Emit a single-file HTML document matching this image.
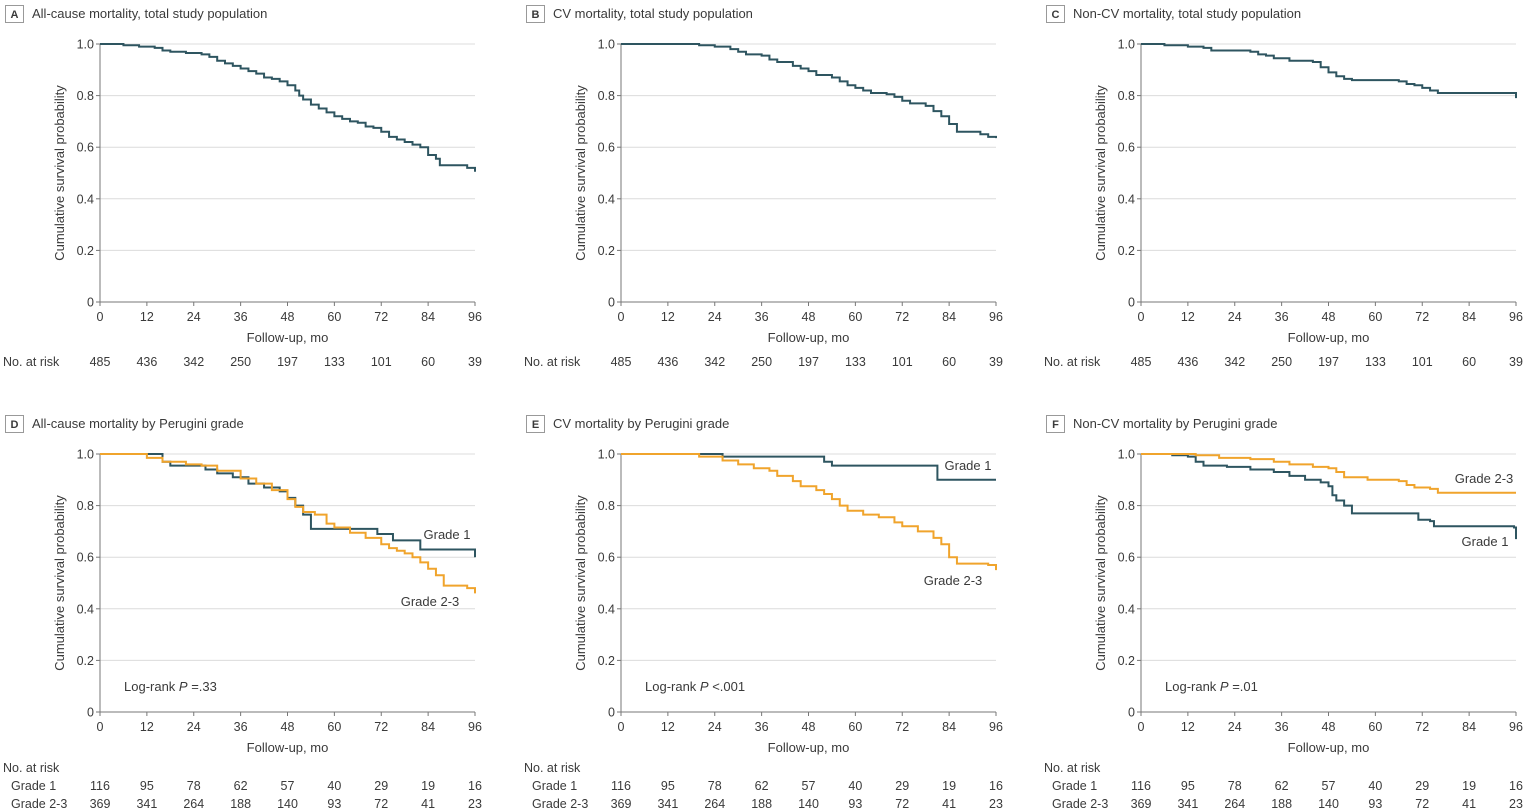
<!DOCTYPE html>
<html><head><meta charset="utf-8"><style>
body{margin:0;background:#fff;width:1527px;height:812px;overflow:hidden}
svg{display:block}
text{font-family:"Liberation Sans",sans-serif;fill:#3a3a3a}
</style></head><body>
<svg id="s" width="1527" height="812" xmlns="http://www.w3.org/2000/svg"></svg>
<script>
const T="#2e5560",O="#f0a42c";
const P=[
{ox:0,oy:0,L:"A",t:"All-cause mortality, total study population",c:[[T,[[0,1],[6,.995],[10,.99],[14,.985],[16,.975],[18,.97],[22,.965],[26,.96],[28,.95],[30,.935],[32,.925],[34,.915],[36,.905],[38,.895],[40,.885],[42,.87],[44,.865],[46,.855],[48,.84],[50,.82],[51,.8],[52,.785],[54,.765],[56,.75],[58,.735],[60,.72],[62,.71],[64,.7],[66,.695],[68,.68],[70,.675],[72,.66],[74,.64],[76,.63],[78,.62],[80,.61],[82,.6],[84,.57],[86,.555],[87,.53],[94,.52],[96,.505]]]]},
{ox:521,oy:0,L:"B",t:"CV mortality, total study population",c:[[T,[[0,1],[20,.995],[24,.99],[28,.98],[30,.97],[32,.96],[36,.955],[38,.94],[40,.93],[44,.915],[46,.905],[48,.895],[50,.88],[54,.87],[56,.855],[58,.84],[60,.83],[62,.82],[64,.81],[68,.805],[70,.795],[72,.78],[74,.77],[78,.76],[80,.74],[82,.72],[84,.69],[86,.66],[92,.65],[94,.64],[96,.635]]]]},
{ox:1041,oy:0,L:"C",t:"Non-CV mortality, total study population",c:[[T,[[0,1],[6,.995],[12,.99],[16,.985],[18,.975],[28,.97],[30,.96],[32,.955],[34,.945],[38,.935],[44,.93],[46,.91],[48,.89],[50,.875],[52,.865],[54,.86],[66,.855],[68,.845],[70,.84],[72,.83],[74,.82],[76,.81],[95.5,.81],[96,.79]]]]},
{ox:0,oy:410,L:"D",t:"All-cause mortality by Perugini grade",p:".33",op:"=",
 c:[[T,[[0,1],[15,1],[16,.97],[18,.955],[26,.955],[27,.94],[30,.925],[34,.91],[38,.885],[42,.87],[46,.855],[48,.83],[50,.8],[52,.765],[54,.71],[70,.71],[71,.69],[75,.665],[82,.63],[95.5,.63],[96,.6]]],
    [O,[[0,1],[12,.985],[16,.97],[22,.96],[26,.955],[30,.935],[36,.905],[40,.885],[44,.86],[48,.825],[50,.795],[52,.775],[55,.765],[58,.73],[60,.715],[64,.695],[68,.675],[72,.65],[74,.635],[76,.625],[78,.615],[80,.6],[82,.58],[84,.555],[86,.53],[88,.49],[94,.48],[96,.46]]]],
 lb:[[447,539,"Grade 1"],[430,606,"Grade 2-3"]]},
{ox:521,oy:410,L:"E",t:"CV mortality by Perugini grade",p:".001",op:"<",
 c:[[T,[[0,1],[24,1],[26,.99],[50,.99],[52,.97],[54,.955],[80,.955],[81,.9],[96,.9]]],
    [O,[[0,1],[20,.99],[26,.975],[30,.96],[34,.945],[38,.935],[40,.915],[44,.895],[46,.875],[50,.86],[52,.845],[54,.825],[56,.8],[58,.78],[62,.765],[66,.755],[70,.735],[72,.72],[76,.7],[80,.675],[82,.65],[84,.6],[86,.575],[94,.57],[96,.55]]]],
 lb:[[968,470,"Grade 1"],[953,585,"Grade 2-3"]]},
{ox:1041,oy:410,L:"F",t:"Non-CV mortality by Perugini grade",p:".01",op:"=",
 c:[[T,[[0,1],[8,.995],[12,.99],[14,.97],[16,.955],[22,.95],[28,.94],[34,.93],[38,.915],[42,.9],[46,.89],[48,.875],[49,.84],[50,.82],[52,.8],[54,.77],[70,.77],[71,.745],[74,.74],[75,.72],[95.5,.715],[96,.67]]],
    [O,[[0,1],[14,.995],[20,.985],[28,.98],[34,.97],[38,.96],[44,.95],[48,.945],[50,.93],[52,.91],[58,.9],[66,.895],[68,.88],[70,.87],[74,.865],[76,.85],[96,.85]]]],
 lb:[[1485,546,"Grade 1"],[1484,483,"Grade 2-3"]]}
];
let h="";
const risk1=[485,436,342,250,197,133,101,60,39];
const g1=[116,95,78,62,57,40,29,19,16],g2=[369,341,264,188,140,93,72,41,23];
for(const p of P){
 const x0=100+p.ox,x1=475+p.ox,yb=302+p.oy,yt=44+p.oy;
 const X=m=>x0+m*(x1-x0)/96,Y=v=>yb-v*(yb-yt);
 h+=`<rect x="${p.ox+5.5}" y="${p.oy+5.5}" width="18" height="17" fill="#fff" stroke="#999" stroke-width="1"/><text x="${p.ox+14.5}" y="${p.oy+18}" font-size="11" font-weight="bold" text-anchor="middle">${p.L}</text><text x="${p.ox+32}" y="${p.oy+18}" font-size="13">${p.t}</text>`;
 for(let i=1;i<=5;i++){const y=Y(i/5);h+=`<line x1="${x0}" x2="${x1}" y1="${y}" y2="${y}" stroke="#dcdcdc"/>`;}
 for(let i=0;i<=5;i++){const y=Y(i/5);h+=`<line x1="${x0-4}" x2="${x0}" y1="${y}" y2="${y}" stroke="#777"/><text x="${x0-6}" y="${y+4.5}" font-size="12.5" text-anchor="end">${i==0?"0":(i/5).toFixed(1)}</text>`;}
 h+=`<line x1="${x0}" x2="${x0}" y1="${yt}" y2="${yb}" stroke="#777"/><line x1="${x0}" x2="${x1}" y1="${yb}" y2="${yb}" stroke="#777"/>`;
 for(let i=0;i<=8;i++){const x=X(i*12);h+=`<line x1="${x}" x2="${x}" y1="${yb}" y2="${yb+4}" stroke="#777"/><text x="${x}" y="${yb+19}" font-size="12.5" text-anchor="middle">${i*12}</text>`;}
 h+=`<text x="${(x0+x1)/2}" y="${yb+40}" font-size="13" text-anchor="middle">Follow-up, mo</text>`;
 h+=`<text transform="translate(${x0-36},${(yt+yb)/2}) rotate(-90)" font-size="13" text-anchor="middle">Cumulative survival probability</text>`;
 for(const [col,pts] of p.c){let d=`M${X(pts[0][0])},${Y(pts[0][1])}`;for(let i=1;i<pts.length;i++){d+=`H${X(pts[i][0])}V${Y(pts[i][1])}`;}h+=`<path d="${d}" fill="none" stroke="${col}" stroke-width="2"/>`;}
 if(p.lb)for(const [x,y,s] of p.lb)h+=`<text x="${x}" y="${y}" font-size="13" text-anchor="middle">${s}</text>`;
 if(p.p)h+=`<text x="${p.ox+124}" y="${p.oy+281}" font-size="13">Log-rank <tspan font-style="italic">P</tspan> ${p.op}${p.p}</text>`;
 if(!p.p){h+=`<text x="${p.ox+3}" y="366" font-size="12.5">No. at risk</text>`;risk1.forEach((v,i)=>h+=`<text x="${X(i*12)}" y="366" font-size="12.5" text-anchor="middle">${v}</text>`);}
 else{h+=`<text x="${p.ox+3}" y="772" font-size="12.5">No. at risk</text><text x="${p.ox+11}" y="790" font-size="12.5">Grade 1</text><text x="${p.ox+11}" y="808" font-size="12.5">Grade 2-3</text>`;
  g1.forEach((v,i)=>h+=`<text x="${X(i*12)}" y="790" font-size="12.5" text-anchor="middle">${v}</text>`);
  g2.forEach((v,i)=>h+=`<text x="${X(i*12)}" y="808" font-size="12.5" text-anchor="middle">${v}</text>`);}
}
document.getElementById("s").innerHTML=h;
</script>
</body></html>
